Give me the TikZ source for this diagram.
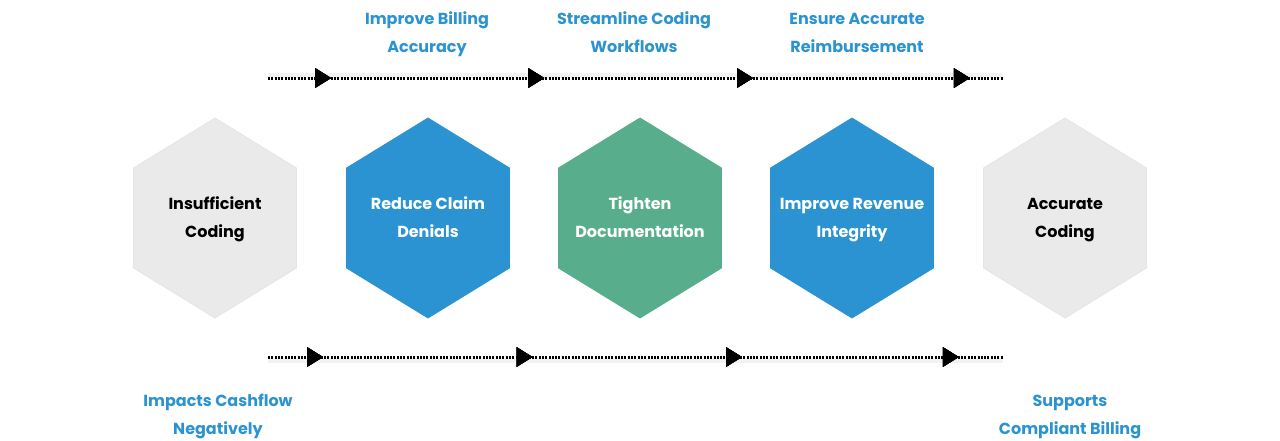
\documentclass[tikz,border=0pt]{standalone}
\usepackage{fontspec}
\setmainfont{Poppins}
\usetikzlibrary{arrows.meta,decorations.markings}
\definecolor{hexgray}{HTML}{EAEAEA}
\definecolor{hexblue}{HTML}{2B93D1}
\definecolor{hexgreen}{HTML}{57AD8C}
\definecolor{labelblue}{HTML}{2B93D1}
\tikzset{
    hexlabel/.style={align=center, font=\fontsize{16}{28}\selectfont\bfseries},
    steplabel/.style={align=center, text=labelblue, font=\fontsize{16}{28}\selectfont\bfseries},
    flowline/.style={line width=3pt, dash pattern=on 2pt off 1.3pt},
    flowshadow/.style={line width=5pt, black, opacity=0.05},
    tip/.style={postaction={decorate}, decoration={markings,
        mark=at position #1 with {\arrow{Triangle[length=16pt,width=19pt]}}}}
}
\begin{document}
\begin{tikzpicture}
[
    x=1pt, y=-1pt
]
    \useasboundingbox (0,0) rectangle (1280,440);

    % hexagons
    \foreach \cx/\fillc/\drawc/\txtc/\name/\txt in {
        215/hexgray/black!10/black/insuff/{\strut Insufficient\\\strut Coding},
        428/hexblue/hexblue/white/reduce/{\strut Reduce Claim\\\strut Denials},
        640/hexgreen/hexgreen/white/tighten/{\strut Tighten\\\strut Documentation},
        852/hexblue/hexblue/white/revenue/{\strut Improve Revenue\\\strut Integrity},
        1065/hexgray/black!10/black/accurate/{\strut Accurate\\\strut Coding}}
    {
        \filldraw [fill=\fillc, draw=\drawc, line width=0.8pt]
            (\cx,118) -- ++(81.5,50) -- ++(0,100) -- ++(-81.5,50)
            -- ++(-81.5,-50) -- ++(0,-100) -- cycle;
        \node [hexlabel, text=\txtc] (\name) at (\cx,218) {\txt};
    }

    % top flow
    \coordinate (topstart) at (268,78);
    \coordinate (topend) at (1003,78);
    \draw [flowshadow] ([yshift=3pt]topstart) -- ([yshift=3pt]topend);
    \draw [flowline, tip=0.086, tip=0.376, tip=0.66, tip=0.955] (topstart) -- (topend);

    % bottom flow
    \coordinate (botstart) at (268,357);
    \coordinate (botend) at (1003,357);
    \draw [flowshadow] ([yshift=-3pt]botstart) -- ([yshift=-3pt]botend);
    \draw [flowline, tip=0.075, tip=0.36, tip=0.645, tip=0.94] (botstart) -- (botend);

    % labels
    \node [steplabel] (billing) at (427,33) {\strut Improve Billing\\\strut Accuracy};
    \node [steplabel] (workflow) at (634,33) {\strut Streamline Coding\\\strut Workflows};
    \node [steplabel] (reimb) at (857,33) {\strut Ensure Accurate\\\strut Reimbursement};
    \node [steplabel] (cashflow) at (218,415) {\strut Impacts Cashflow\\\strut Negatively};
    \node [steplabel] (compliant) at (1070,415) {\strut Supports\\\strut Compliant Billing};
\end{tikzpicture}
\end{document}
